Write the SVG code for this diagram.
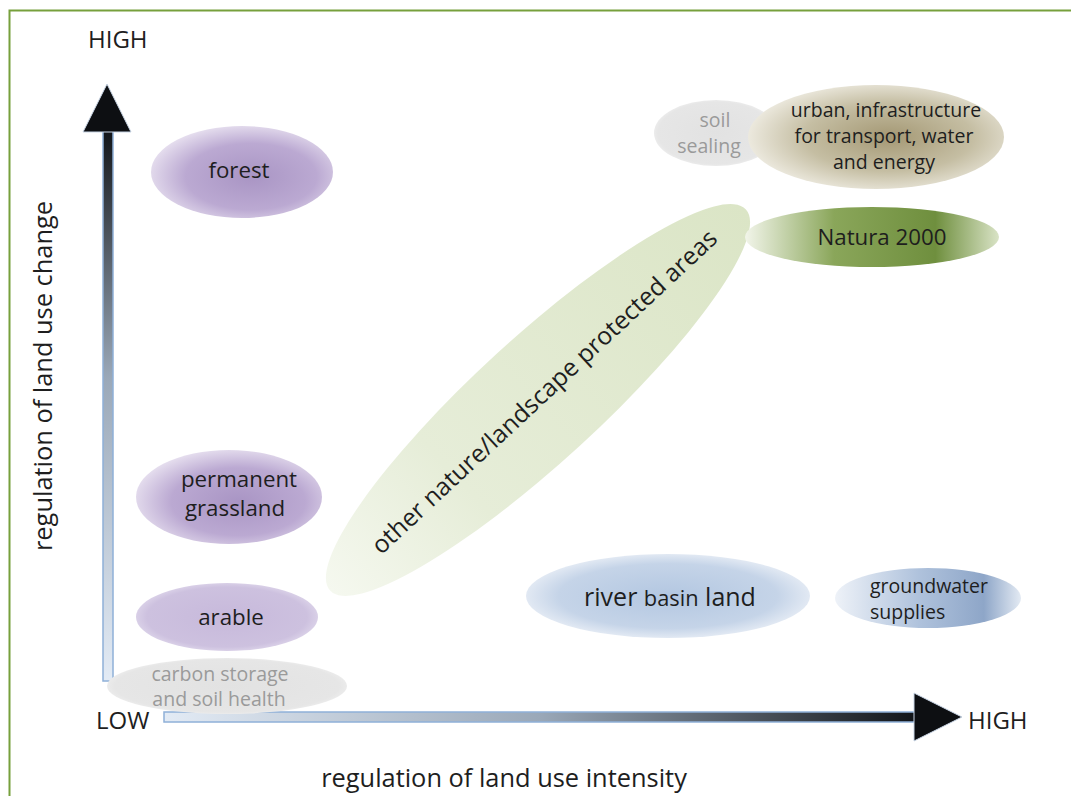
<svg xmlns="http://www.w3.org/2000/svg" width="1071" height="796" viewBox="0 0 1071 796">
<defs>
<style>
text{font-family:"Open Sans","Liberation Sans",sans-serif;fill:#1e1e1e}
.big{font-size:24px}
.mid{font-size:22.3px}
.sm{font-size:19.5px}
.gray{fill:#9a9a9a}
</style>
<radialGradient id="gPurple" cx="0.55" cy="0.55" r="0.6">
<stop offset="0" stop-color="#a995c4"/>
<stop offset="0.6" stop-color="#bba9d2"/>
<stop offset="1" stop-color="#ebe5f2"/>
</radialGradient>
<radialGradient id="gArable" cx="0.5" cy="0.5" r="0.55">
<stop offset="0" stop-color="#c7b9db"/>
<stop offset="0.8" stop-color="#cdc1df"/>
<stop offset="1" stop-color="#e3dcee"/>
</radialGradient>
<radialGradient id="gGray" cx="0.5" cy="0.5" r="0.55">
<stop offset="0" stop-color="#e2e2e2"/>
<stop offset="0.85" stop-color="#e6e6e6"/>
<stop offset="1" stop-color="#f3f3f3"/>
</radialGradient>
<radialGradient id="gUrban" cx="0.55" cy="0.5" r="0.55">
<stop offset="0" stop-color="#a49874"/>
<stop offset="0.6" stop-color="#c5bea3"/>
<stop offset="1" stop-color="#ece9de"/>
</radialGradient>
<linearGradient id="gNatura" x1="0" y1="0" x2="1" y2="0">
<stop offset="0" stop-color="#f2f5ea"/>
<stop offset="0.35" stop-color="#8aa65a"/>
<stop offset="0.75" stop-color="#6f8f3e"/>
<stop offset="1" stop-color="#d9e3c6"/>
</linearGradient>
<linearGradient id="gOther" x1="0" y1="0" x2="1" y2="0">
<stop offset="0" stop-color="#f5f8ef"/>
<stop offset="0.3" stop-color="#e6edd8"/>
<stop offset="1" stop-color="#dbe5c6"/>
</linearGradient>
<radialGradient id="gRiver" cx="0.5" cy="0.5" r="0.55">
<stop offset="0" stop-color="#b3c7e1"/>
<stop offset="0.7" stop-color="#c5d4e8"/>
<stop offset="1" stop-color="#eef2f8"/>
</radialGradient>
<linearGradient id="gGround" x1="0" y1="0" x2="1" y2="0">
<stop offset="0" stop-color="#eef2f8"/>
<stop offset="0.45" stop-color="#afc2dc"/>
<stop offset="0.8" stop-color="#8ea6c8"/>
<stop offset="1" stop-color="#e3eaf3"/>
</linearGradient>
<linearGradient id="gVert" x1="0" y1="0" x2="0" y2="1">
<stop offset="0" stop-color="#111418"/>
<stop offset="0.45" stop-color="#9aa8b8"/>
<stop offset="1" stop-color="#e3ebf5"/>
</linearGradient>
<linearGradient id="gHoriz" x1="0" y1="0" x2="1" y2="0">
<stop offset="0" stop-color="#e3ebf5"/>
<stop offset="0.5" stop-color="#9aa8b8"/>
<stop offset="1" stop-color="#111418"/>
</linearGradient>
</defs>

<g id="frame" fill="none" stroke="#77a03c" stroke-width="2">
<path d="M9.5 796 V10.5 H1071"/>
</g>

<g id="axes">
<g id="y-axis">
<rect x="103" y="128" width="10" height="553" fill="url(#gVert)" stroke="#8fb0d8" stroke-width="1.5"/>
<polygon points="107,84 83,132 131,132" fill="#0d0f12" stroke="#c9d6e6" stroke-width="1"/>
</g>
<g id="x-axis">
<rect x="164" y="712" width="752" height="10" fill="url(#gHoriz)" stroke="#8fb0d8" stroke-width="1.5"/>
<polygon points="962,717 914,693 914,741" fill="#0d0f12" stroke="#c9d6e6" stroke-width="1"/>
</g>
</g>

<g id="labels">
<text class="big" x="88" y="48">HIGH</text>
<text class="big" x="96" y="729">LOW</text>
<text class="big" x="968" y="729">HIGH</text>
<text x="504" y="787" text-anchor="middle" style="font-size:25.4px">regulation of land use intensity</text>
<text transform="translate(52,376) rotate(-90)" text-anchor="middle" style="font-size:25.4px">regulation of land use change</text>
</g>

<g id="node-forest">
<ellipse cx="242" cy="172" rx="91" ry="46" fill="url(#gPurple)"/>
<text class="mid" x="239" y="178" text-anchor="middle">forest</text>
</g>

<g id="node-grassland">
<ellipse cx="229" cy="497" rx="93" ry="47" fill="url(#gPurple)"/>
<text class="mid" x="239" y="487" text-anchor="middle">permanent</text>
<text class="mid" x="235" y="516" text-anchor="middle">grassland</text>
</g>

<g id="node-arable">
<ellipse cx="227" cy="617" rx="91" ry="34" fill="url(#gArable)"/>
<text class="mid" x="231" y="625" text-anchor="middle">arable</text>
</g>

<g id="node-carbon">
<ellipse cx="227" cy="686" rx="120" ry="28" fill="url(#gGray)"/>
<text class="sm gray" x="220" y="681" text-anchor="middle">carbon storage</text>
<text class="sm gray" x="219" y="706" text-anchor="middle">and soil health</text>
</g>

<g id="node-other">
<ellipse cx="538" cy="400" rx="282" ry="62" fill="url(#gOther)" transform="rotate(-42.5 538 400)"/>
<text transform="translate(550,398) rotate(-43)" text-anchor="middle" style="font-size:24.8px">other nature/landscape protected areas</text>
</g>

<g id="node-soil-sealing">
<ellipse cx="716" cy="133" rx="62" ry="33" fill="url(#gGray)"/>
<text class="sm gray" x="715" y="127" text-anchor="middle">soil</text>
<text class="sm gray" x="709" y="153" text-anchor="middle">sealing</text>
</g>

<g id="node-urban">
<ellipse cx="876" cy="137" rx="128" ry="52" fill="url(#gUrban)"/>
<text class="sm" x="886" y="117" text-anchor="middle">urban, infrastructure</text>
<text class="sm" x="884" y="143" text-anchor="middle">for transport, water</text>
<text class="sm" x="884" y="169" text-anchor="middle">and energy</text>
</g>

<g id="node-natura">
<ellipse cx="872" cy="237" rx="127" ry="30" fill="url(#gNatura)"/>
<text class="mid" x="882" y="245" text-anchor="middle">Natura 2000</text>
</g>

<g id="node-river">
<ellipse cx="668" cy="596" rx="142" ry="42" fill="url(#gRiver)"/>
<text x="670" y="606" text-anchor="middle"><tspan style="font-size:25px">river </tspan><tspan style="font-size:21.8px">basin</tspan><tspan style="font-size:25px"> land</tspan></text>
</g>

<g id="node-groundwater">
<ellipse cx="928" cy="598" rx="93" ry="30" fill="url(#gGround)"/>
<text class="sm" x="870" y="593">groundwater</text>
<text class="sm" x="870" y="619">supplies</text>
</g>
</svg>
